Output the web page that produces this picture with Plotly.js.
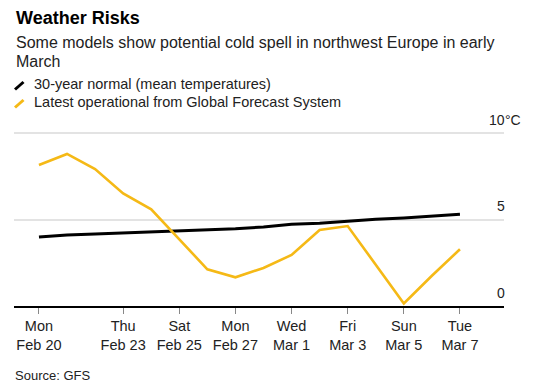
<!DOCTYPE html>
<html><head><meta charset="utf-8">
<script src="https://cdn.plot.ly/plotly-3.0.1.min.js"></script>
<style>html,body{margin:0;padding:0;background:#fff}#chart{width:536px;height:390px}</style>
</head><body><div id="chart"></div>
<script>
// ---- data ----
const dates = ['2023-02-20','2023-02-21','2023-02-22','2023-02-23','2023-02-24','2023-02-25','2023-02-26','2023-02-27',
               '2023-02-28','2023-03-01','2023-03-02','2023-03-03','2023-03-04','2023-03-05','2023-03-06','2023-03-07'];
const normalTemps = [3.99,4.10,4.16,4.22,4.28,4.37,4.41,4.47,4.57,4.72,4.78,4.90,5.01,5.09,5.20,5.30];
const gfsTemps    = [8.15,8.79,7.92,6.51,5.59,3.85,2.12,1.66,2.20,2.95,4.39,4.62,2.40,0.15,1.75,3.28];
const tickDates  = ['2023-02-20','2023-02-23','2023-02-25','2023-02-27','2023-03-01','2023-03-03','2023-03-05','2023-03-07'];
const tickLabels = ['Mon<br>Feb 20','Thu<br>Feb 23','Sat<br>Feb 25','Mon<br>Feb 27','Wed<br>Mar 1','Fri<br>Mar 3','Sun<br>Mar 5','Tue<br>Mar 7'];
const yTickVals   = [0, 5, 10];
const yTickLabels = ['0', '5', '10'];
const unitLabel = '°C';
const seriesNames = ['30-year normal (mean temperatures)', 'Latest operational from Global Forecast System'];
const titleText = 'Weather Risks';
const subtitleLines = ['Some models show potential cold spell in northwest Europe in early', 'March'];
const sourceText = 'Source: GFS';

// ---- layout helpers ----
const W = 536, H = 390;
const M = {l: 14, r: 32, t: 123, b: 84};
const PW = W - M.l - M.r, PH = H - M.t - M.b;
const px = x => (x - M.l) / PW;
const py = y => (H - M.b - y) / PH;
const FONT = 'Liberation Sans, Arial, Helvetica, sans-serif';
const YELLOW = '#f5b916';

const traces = [
  {x: dates, y: normalTemps, type: 'scatter', mode: 'lines', name: seriesNames[0],
   line: {color: '#000000', width: 3}, hoverinfo: 'skip'},
  {x: dates, y: gfsTemps, type: 'scatter', mode: 'lines', name: seriesNames[1],
   line: {color: YELLOW, width: 2.6}, hoverinfo: 'skip'}
];

const annotations = [
  {text: '<b>' + titleText + '</b>', x: px(14), y: py(18), xref: 'paper', yref: 'paper', xanchor: 'left', yanchor: 'middle',
   showarrow: false, font: {size: 18, color: '#000', family: FONT}},
  {text: subtitleLines[0], x: px(14), y: py(42.6), xref: 'paper', yref: 'paper', xanchor: 'left', yanchor: 'middle',
   showarrow: false, font: {size: 16, color: '#222', family: FONT}},
  {text: subtitleLines[1], x: px(14), y: py(61.5), xref: 'paper', yref: 'paper', xanchor: 'left', yanchor: 'middle',
   showarrow: false, font: {size: 16, color: '#222', family: FONT}},
  {text: seriesNames[0], x: px(32), y: py(84), xref: 'paper', yref: 'paper', xanchor: 'left', yanchor: 'middle',
   showarrow: false, font: {size: 14.5, color: '#222', family: FONT}},
  {text: seriesNames[1], x: px(32), y: py(101.8), xref: 'paper', yref: 'paper', xanchor: 'left', yanchor: 'middle',
   showarrow: false, font: {size: 14.5, color: '#222', family: FONT}},
  {text: sourceText, x: px(13), y: py(375), xref: 'paper', yref: 'paper', xanchor: 'left', yanchor: 'middle',
   showarrow: false, font: {size: 13, color: '#222', family: FONT}}
];
yTickVals.forEach((v, i) => {
  annotations.push({text: yTickLabels[i], x: px(506), y: v, xref: 'paper', yref: 'y', xanchor: 'right', yanchor: 'middle',
    yshift: 13.5, showarrow: false, borderpad: 0, font: {size: 14, color: '#222', family: FONT}});
});
annotations.push({text: unitLabel, x: px(504), y: yTickVals[yTickVals.length - 1], xref: 'paper', yref: 'y', xanchor: 'left',
  yanchor: 'middle', yshift: 13.5, showarrow: false, borderpad: 0, font: {size: 14, color: '#222', family: FONT}});

const shapes = [
  {type: 'line', xref: 'paper', yref: 'paper', x0: px(15), y0: py(89.5), x1: px(23.5), y1: py(82),
   line: {color: '#000', width: 3}},
  {type: 'line', xref: 'paper', yref: 'paper', x0: px(15), y0: py(107.5), x1: px(23.5), y1: py(100),
   line: {color: YELLOW, width: 3}}
];

const layout = {
  width: W, height: H, margin: M, paper_bgcolor: '#fff', plot_bgcolor: '#fff',
  showlegend: false, font: {family: FONT, size: 14, color: '#222'},
  xaxis: {type: 'date', range: ['2023-02-19 02:40', '2023-03-08 13:40'], tickvals: tickDates, ticktext: tickLabels,
    showgrid: false, zeroline: false, showline: true, linecolor: '#000', linewidth: 1.5,
    ticks: 'outside', ticklen: 6, tickcolor: '#888', tickwidth: 1, tickfont: {size: 14.5, color: '#222', family: FONT},
    fixedrange: true},
  yaxis: {range: [0, PH / 17.3], tickvals: yTickVals, showticklabels: false, showgrid: true, gridcolor: '#e3e3e3',
    gridwidth: 2, zeroline: false, showline: false, ticks: '', fixedrange: true},
  annotations: annotations, shapes: shapes
};

Plotly.newPlot('chart', traces, layout, {displayModeBar: false, staticPlot: true});
</script>
</body></html>
